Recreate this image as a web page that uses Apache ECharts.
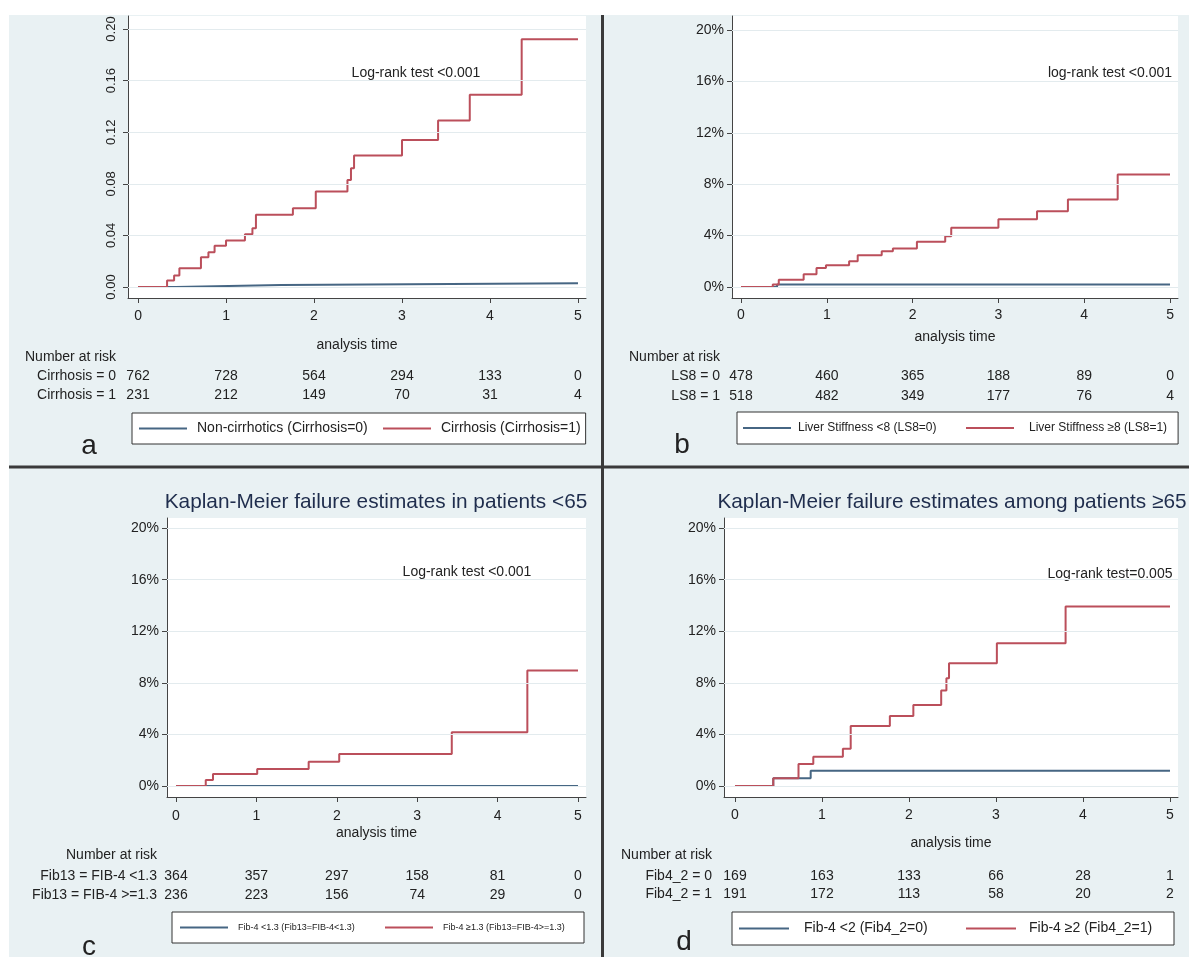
<!DOCTYPE html>
<html><head><meta charset="utf-8">
<script src="https://cdn.jsdelivr.net/npm/echarts@6/dist/echarts.min.js"></script>
<style>html,body{margin:0;padding:0;background:#fff}#c{width:1189px;height:959px}</style>
</head><body><div id="c"></div>
<script>
// ---------- data ----------
const xTicks = [0, 1, 2, 3, 4, 5];
const yTicks = [0, 0.04, 0.08, 0.12, 0.16, 0.2];
const yTickLabelsA = ['0.00', '0.04', '0.08', '0.12', '0.16', '0.20'];
const yTickLabelsPct = ['0%', '4%', '8%', '12%', '16%', '20%'];
const xAxisName = 'analysis time';
const riskHeader = 'Number at risk';

// panel a
const aNames = ['Non-cirrhotics (Cirrhosis=0)', 'Cirrhosis (Cirrhosis=1)'];
const aTime0 = [0, 0.43, 1.63, 5];
const aVal0 = [0, 0.0015, 0.003, 0.003];
const aTime1 = [0, 0.33, 0.41, 0.47, 0.715, 0.80, 0.87, 1.0, 1.215, 1.30, 1.34, 1.76, 2.02, 2.38, 2.42, 2.455, 3.0, 3.41, 3.77, 4.36, 5];
const aVal1 = [0, 0.005, 0.009, 0.0145, 0.023, 0.027, 0.032, 0.036, 0.041, 0.0455, 0.056, 0.061, 0.074, 0.083, 0.092, 0.102, 0.114, 0.129, 0.149, 0.192, 0.192];
const aRowLabels = ['Cirrhosis = 0', 'Cirrhosis = 1'];
const aRisk0 = [762, 728, 564, 294, 133, 0];
const aRisk1 = [231, 212, 149, 70, 31, 4];
const aNote = 'Log-rank test <0.001';

// panel b
const bNames = ['Liver Stiffness <8 (LS8=0)', 'Liver Stiffness \u22658 (LS8=1)'];
const bTime0 = [0, 0.42, 5];
const bVal0 = [0, 0.002, 0.002];
const bTime1 = [0, 0.37, 0.44, 0.73, 0.88, 0.99, 1.26, 1.36, 1.64, 1.77, 2.05, 2.38, 2.45, 3.0, 3.45, 3.81, 4.39, 5];
const bVal1 = [0, 0.002, 0.0057, 0.0098, 0.0148, 0.0168, 0.020, 0.0246, 0.0277, 0.030, 0.0352, 0.0394, 0.046, 0.0526, 0.059, 0.068, 0.0876, 0.0876];
const bRowLabels = ['LS8 = 0', 'LS8 = 1'];
const bRisk0 = [478, 460, 365, 188, 89, 0];
const bRisk1 = [518, 482, 349, 177, 76, 4];
const bNote = 'log-rank test <0.001';

// panel c
const cTitle = 'Kaplan-Meier failure estimates in patients <65';
const cNames = ['Fib-4 <1.3 (Fib13=FIB-4<1.3)', 'Fib-4 \u22651.3 (Fib13=FIB-4>=1.3)'];
const cTime0 = [0, 5];
const cVal0 = [0, 0];
const cTime1 = [0, 0.37, 0.46, 1.01, 1.65, 2.03, 3.43, 4.37, 5];
const cVal1 = [0, 0.0047, 0.0093, 0.0132, 0.0189, 0.0248, 0.0417, 0.0895, 0.0895];
const cRowLabels = ['Fib13 = FIB-4 <1.3', 'Fib13 = FIB-4 >=1.3'];
const cRisk0 = [364, 357, 297, 158, 81, 0];
const cRisk1 = [236, 223, 156, 74, 29, 0];
const cNote = 'Log-rank test <0.001';

// panel d
const dTitle = 'Kaplan-Meier failure estimates among patients \u226565';
const dNames = ['Fib-4 <2 (Fib4_2=0)', 'Fib-4 \u22652 (Fib4_2=1)'];
const dTime0 = [0, 0.44, 0.87, 5];
const dVal0 = [0, 0.006, 0.0119, 0.0119];
const dTime1 = [0, 0.44, 0.73, 0.90, 1.24, 1.33, 1.78, 2.05, 2.37, 2.43, 2.46, 3.01, 3.80, 5];
const dVal1 = [0, 0.006, 0.017, 0.0228, 0.029, 0.0466, 0.0543, 0.0629, 0.074, 0.0836, 0.0952, 0.1107, 0.1392, 0.1392];
const dRowLabels = ['Fib4_2 = 0', 'Fib4_2 = 1'];
const dRisk0 = [169, 163, 133, 66, 28, 1];
const dRisk1 = [191, 172, 113, 58, 20, 2];
const dNote = 'Log-rank test=0.005';

const panelLetters = ['a', 'b', 'c', 'd'];

// ---------- styling / layout ----------
const FONT = "'Liberation Sans', Arial, Helvetica, sans-serif";
const TXT = '#222';
const AX = '#444';
const BLUE = '#466683';
const RED = '#bb4f5b';
const BG = '#e9f1f3';

const panels = [
  { grid: {left: 128, top: 16, width: 458, height: 282}, xMin: -0.114, xMax: 5.091, yMin: -0.0085, yMax: 0.2101,
    yLabels: yTickLabelsA, rotY: true, yMargin: 10, yFont: 13,
    names: aNames, t: [aTime0, aTime1], v: [aVal0, aVal1], rows: aRowLabels, risk: [aRisk0, aRisk1],
    tickM: 18, nameGap: 47, narOff: 59, rowOff: [78, 97], startGap: 12,
    legend: {left: 132, top: 413, padding: [8.5, 5, 8.5, 7], itemWidth: 48, itemGap: 6, font: 14, w: [180, 138], tp: [5, 5]},
    note: {text: aNote, x: 416, y: 73}, letter: {x: 89, y: 446} },
  { grid: {left: 732, top: 16, width: 446, height: 282}, xMin: -0.105, xMax: 5.093, yMin: -0.0086, yMax: 0.2109,
    yLabels: yTickLabelsPct, rotY: false, yMargin: 8, yFont: 14,
    names: bNames, t: [bTime0, bTime1], v: [bVal0, bVal1], rows: bRowLabels, risk: [bRisk0, bRisk1],
    tickM: 17, nameGap: 39, narOff: 59, rowOff: [78, 98], startGap: 12,
    legend: {left: 737, top: 412, padding: [9, 11, 9, 6], itemWidth: 48, itemGap: 5, font: 12, w: [163, 134], tp: [2, 10]},
    note: {text: bNote, x: 1110, y: 73}, letter: {x: 682, y: 445} },
  { grid: {left: 167, top: 518, width: 419, height: 279}, xMin: -0.112, xMax: 5.0995, yMin: -0.0085, yMax: 0.2078,
    yLabels: yTickLabelsPct, rotY: false, yMargin: 8, yFont: 14,
    names: cNames, t: [cTime0, cTime1], v: [cVal0, cVal1], rows: cRowLabels, risk: [cRisk0, cRisk1],
    tickM: 19, nameGap: 36, narOff: 58, rowOff: [79, 98], startGap: 10,
    legend: {left: 172, top: 912, padding: [8.5, 6, 8.5, 8], itemWidth: 48, itemGap: 7, font: 9, w: [140, 135], tp: [5, 5]},
    note: {text: cNote, x: 467, y: 572}, title: {text: cTitle, x: 376, y: 502}, letter: {x: 89, y: 947} },
  { grid: {left: 724, top: 518, width: 454, height: 279}, xMin: -0.1264, xMax: 5.092, yMin: -0.0085, yMax: 0.2078,
    yLabels: yTickLabelsPct, rotY: false, yMargin: 8, yFont: 14,
    names: dNames, t: [dTime0, dTime1], v: [dVal0, dVal1], rows: dRowLabels, risk: [dRisk0, dRisk1],
    tickM: 18, nameGap: 46, narOff: 58, rowOff: [79, 97], startGap: 12,
    legend: {left: 732, top: 912, padding: [9.5, 9, 9.5, 7], itemWidth: 50, itemGap: 5, font: 14, w: [157, 136], tp: [10, 8]},
    note: {text: dNote, x: 1110, y: 574}, title: {text: dTitle, x: 952, y: 502}, letter: {x: 684, y: 942} }
];

const grids = [], xAxes = [], yAxes = [], series = [], legends = [];
const graphics = [
  {type: 'rect', shape: {x: 0, y: 0, width: 1189, height: 15}, style: {fill: '#fff'}, silent: true},
  {type: 'rect', shape: {x: 0, y: 0, width: 9, height: 959}, style: {fill: '#fff'}, silent: true},
  {type: 'rect', shape: {x: 0, y: 957, width: 1189, height: 2}, style: {fill: '#fff'}, silent: true},
  {type: 'line', shape: {x1: 602.5, y1: 15, x2: 602.5, y2: 957}, style: {stroke: '#3a3a3a', lineWidth: 3}, silent: true},
  {type: 'line', shape: {x1: 9, y1: 467, x2: 1189, y2: 467}, style: {stroke: '#3a3a3a', lineWidth: 3}, silent: true}
];

function tickLabel(labels, v) {
  const i = yTicks.findIndex(t => Math.abs(t - v) < 1e-9);
  return i >= 0 ? labels[i] : '';
}
const txt = (size, extra) => Object.assign({fontSize: size, color: TXT, fontFamily: FONT}, extra || {});

panels.forEach((p, i) => {
  grids.push(Object.assign({show: true, backgroundColor: '#fff', borderWidth: 0}, p.grid));
  const base = {type: 'value', gridIndex: i, position: 'bottom', min: p.xMin, max: p.xMax, splitLine: {show: false}};
  // main x axis
  xAxes.push(Object.assign({}, base, {
    name: xAxisName, nameLocation: 'middle', nameGap: p.nameGap,
    nameTextStyle: txt(14, {verticalAlign: 'middle'}),
    axisLine: {show: true, onZero: false, lineStyle: {color: AX, width: 1}},
    axisTick: {show: true, length: 5, customValues: xTicks, lineStyle: {color: AX}},
    axisLabel: Object.assign(txt(14), {customValues: xTicks, margin: p.tickM, verticalAlign: 'middle', formatter: v => String(v)})
  }));
  // "Number at risk" header axis
  xAxes.push(Object.assign({}, base, {
    offset: p.narOff, name: riskHeader, nameLocation: 'start', nameGap: p.startGap,
    nameTextStyle: txt(14, {align: 'right', verticalAlign: 'middle'}),
    axisLine: {show: false, onZero: false}, axisTick: {show: false}, axisLabel: {show: false}
  }));
  // risk rows
  [0, 1].forEach(r => {
    const risk = p.risk[r];
    xAxes.push(Object.assign({}, base, {
      offset: p.rowOff[r], name: p.rows[r], nameLocation: 'start', nameGap: p.startGap,
      nameTextStyle: txt(14, {align: 'right', verticalAlign: 'middle'}),
      axisLine: {show: false, onZero: false}, axisTick: {show: false},
      axisLabel: Object.assign(txt(14), {customValues: xTicks, margin: 0, verticalAlign: 'middle',
        formatter: v => String(risk[xTicks.indexOf(Math.round(v))])})
    }));
  });
  yAxes.push({
    type: 'value', gridIndex: i, min: p.yMin, max: p.yMax, splitLine: {show: false},
    axisLine: {show: true, onZero: false, lineStyle: {color: AX, width: 1}},
    axisTick: {show: true, length: 5, customValues: yTicks, lineStyle: {color: AX}},
    axisLabel: Object.assign(txt(p.yFont), {customValues: yTicks, margin: p.yMargin, rotate: p.rotY ? 90 : 0,
      formatter: v => tickLabel(p.yLabels, v)})
  });
  [0, 1].forEach(s => {
    const ser = {
      type: 'line', name: p.names[s], xAxisIndex: 4 * i, yAxisIndex: i, step: 'end', symbol: 'none',
      data: p.t[s].map((t, k) => [t, p.v[s][k]]),
      lineStyle: {color: s ? RED : BLUE, width: 2}, itemStyle: {color: s ? RED : BLUE},
      z: 3 + s, silent: true
    };
    if (s === 0) {
      ser.markLine = {silent: true, symbol: ['none', 'none'], label: {show: false}, animation: false,
        lineStyle: {color: '#e3ebee', width: 1, type: 'solid'},
        data: yTicks.map(v => ({yAxis: v}))};
    }
    series.push(ser);
  });
  const L = p.legend;
  legends.push({
    left: L.left, top: L.top, orient: 'horizontal', padding: L.padding,
    itemWidth: L.itemWidth, itemHeight: 2, itemGap: L.itemGap, icon: 'rect',
    backgroundColor: '#fff', borderColor: '#333', borderWidth: 1, borderRadius: 0,
    selectedMode: false, textStyle: txt(L.font, {lineHeight: 14}),
    data: [0, 1].map(s => ({name: p.names[s], icon: 'rect',
      textStyle: {width: L.w[s], lineHeight: 14, padding: [0, 0, 0, L.tp[s]], backgroundColor: 'rgba(255,255,255,0)'}}))
  });
  graphics.push({type: 'text', x: p.note.x, y: p.note.y, silent: true,
    style: {text: p.note.text, fill: TXT, font: '14px ' + FONT, textAlign: 'center', textVerticalAlign: 'middle'}});
  graphics.push({type: 'text', x: p.letter.x, y: p.letter.y, silent: true,
    style: {text: panelLetters[i], fill: TXT, font: '28px ' + FONT, textAlign: 'center', textVerticalAlign: 'middle'}});
  if (p.title) {
    graphics.push({type: 'text', x: p.title.x, y: p.title.y, silent: true,
      style: {text: p.title.text, fill: '#1f2d4d', font: '20.8px ' + FONT, textAlign: 'center', textVerticalAlign: 'middle'}});
  }
});

const chart = echarts.init(document.getElementById('c'), null, {renderer: 'canvas'});
chart.setOption({
  backgroundColor: BG,
  animation: false,
  grid: grids, xAxis: xAxes, yAxis: yAxes, series: series, legend: legends,
  graphic: graphics
});
</script></body></html>
